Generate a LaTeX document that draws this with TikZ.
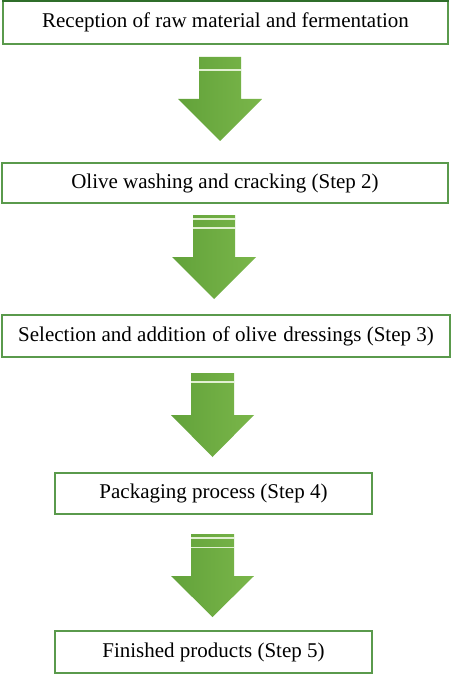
\documentclass[tikz,border=0pt]{standalone}
\usepackage{fontspec}
\setmainfont{Liberation Serif}
\definecolor{boxgreen}{HTML}{5A9A4C}
\definecolor{darkgreen}{HTML}{2F6E2A}
\definecolor{arrowL}{HTML}{62A23A}
\definecolor{arrowR}{HTML}{7AB64A}
\definecolor{gapcol}{HTML}{E2F0D2}
\begin{document}
\begin{tikzpicture}[x=1pt,y=-1pt,
  stepbox/.style={draw=boxgreen,line width=1.3pt,fill=white,inner sep=0pt,
    font=\fontsize{21}{25}\selectfont},
  blockarrow/.style={left color=arrowL,right color=arrowR,draw=none},
  gapline/.style={draw=gapcol,line width=#1}]
\useasboundingbox (0,0) rectangle (454,679);
\fill[white] (0,0) rectangle (454,679);
% boxes
\node[stepbox,minimum width=445pt,minimum height=43pt] (b1) at (225.5,22.5)
  {Reception of raw material and fermentation};
\draw[darkgreen,line width=3pt] (b1.north west) -- (b1.north east);
\node[stepbox,minimum width=446pt,minimum height=40pt] (b2) at (225,183)
  {Olive washing and cracking (Step 2)};
\node[stepbox,minimum width=448pt,minimum height=42pt] (b3) at (226,336)
  {Selection and addition\hspace{0.05em} of olive\hspace{0.05em} dressings (Step 3)};
\node[stepbox,minimum width=317pt,minimum height=41pt] (b4) at (213.5,493.5)
  {Packaging process (Step 4)};
\node[stepbox,minimum width=317pt,minimum height=42pt] (b5) at (213.5,652)
  {Finished products (Step 5)};
% arrow 1
\path[blockarrow] (199,57) -- (241,57) -- (241,99) -- (262,99) -- (220,141)
  -- (178,99) -- (199,99) -- cycle;
\draw[gapline=2pt] (199,70) -- (241,70);
% arrow 2
\path[blockarrow] (193,215) -- (235,215) -- (235,257) -- (256,257) -- (214,299)
  -- (172,257) -- (193,257) -- cycle;
\draw[gapline=2pt] (193,218.5) -- (235,218.5);
\draw[gapline=1.5pt] (193,228) -- (235,228);
% arrow 3
\path[blockarrow] (191,373) -- (234,373) -- (234,415) -- (254,415) -- (212.5,457)
  -- (171,415) -- (191,415) -- cycle;
\draw[gapline=2.5pt] (191,382) -- (234,382);
% arrow 4
\path[blockarrow] (191,534) -- (234,534) -- (234,576) -- (254,576) -- (212.5,617)
  -- (171,576) -- (191,576) -- cycle;
\draw[gapline=2.5pt] (191,538) -- (234,538);
\draw[gapline=1.5pt] (191,547.5) -- (234,547.5);
\end{tikzpicture}
\end{document}
